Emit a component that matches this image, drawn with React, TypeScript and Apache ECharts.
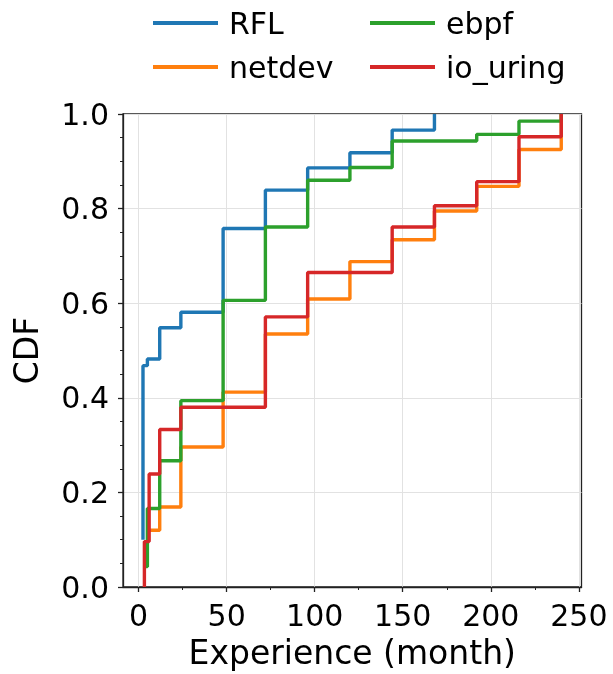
import React, { useEffect, useRef } from "react";
import * as echarts from "echarts";

const seriesNames = ["RFL", "netdev", "ebpf", "io_uring"];
const seriesColors = ["#1f77b4", "#ff7f0e", "#2ca02c", "#d62728"];

const rflX = [2.5, 2.5, 5, 12, 24, 48, 72, 96, 120, 144, 168];
const rflY = [0.1, 0.468, 0.482, 0.548, 0.581, 0.758, 0.839, 0.886, 0.918, 0.966, 1.0];

const netdevX = [6, 12, 24, 48, 72, 96, 120, 144, 168, 192, 216, 240];
const netdevY = [0.12, 0.169, 0.296, 0.412, 0.535, 0.609, 0.688, 0.734, 0.795, 0.847, 0.925, 1.0];

const ebpfX = [3.3, 5, 12, 24, 48, 72, 96, 120, 144, 192, 216, 240];
const ebpfY = [0.043, 0.166, 0.267, 0.394, 0.606, 0.761, 0.86, 0.887, 0.943, 0.957, 0.985, 1.0];

const iouringX = [3.3, 3.3, 6, 12, 24, 72, 96, 144, 168, 192, 216, 240];
const iouringY = [0, 0.096, 0.239, 0.333, 0.38, 0.571, 0.665, 0.761, 0.806, 0.857, 0.952, 1.0];

const xMajorTicks = [0, 50, 100, 150, 200, 250];
const xMinorTicks = [25, 75, 125, 175, 225];

const FONT = "DejaVu Sans";

export default function App() {
  const ref = useRef<HTMLDivElement>(null);
  useEffect(() => {
    if (!ref.current) return;
    const chart = echarts.init(ref.current, null, { renderer: "svg" });
    const xs = [rflX, netdevX, ebpfX, iouringX];
    const ys = [rflY, netdevY, ebpfY, iouringY];
    const series = seriesNames.map((name, i) => ({
      name,
      type: "line",
      step: "end",
      xAxisIndex: 0,
      yAxisIndex: 0,
      showSymbol: false,
      symbol: "none",
      lineStyle: { width: 3.4, color: seriesColors[i] },
      itemStyle: { color: seriesColors[i] },
      data: xs[i].map((x, j) => [x, ys[i][j]]),
    }));
    const legendCommon = {
      orient: "vertical",
      top: 2,
      icon: "rect",
      itemWidth: 65,
      itemHeight: 4,
      itemGap: 12,
      textStyle: {
        fontFamily: FONT,
        fontSize: 30,
        color: "#000",
        lineHeight: 32,
        padding: [0, 0, 0, 6],
      },
    };
    chart.setOption({
      animation: false,
      legend: [
        { ...legendCommon, left: 148, data: ["RFL", "netdev"] },
        { ...legendCommon, left: 365, data: ["ebpf", "io_uring"] },
      ],
      grid: {
        left: 123,
        top: 114,
        right: 31.5,
        bottom: 83,
        show: true,
        borderColor: "#222",
        borderWidth: 1.3,
        backgroundColor: "transparent",
      },
      xAxis: [
        {
          type: "value",
          min: -8.85,
          max: 251.5,
          position: "bottom",
          name: "Experience (month)",
          nameLocation: "middle",
          nameGap: 49,
          nameTextStyle: { fontFamily: FONT, fontSize: 33, color: "#000" },
          axisLine: { show: true, onZero: false, lineStyle: { color: "#222", width: 1.3 } },
          axisTick: { show: true, length: 5, customValues: xMajorTicks, lineStyle: { color: "#222", width: 1.3 } },
          axisLabel: {
            customValues: xMajorTicks,
            fontFamily: FONT,
            fontSize: 30,
            color: "#000",
            margin: 13,
          },
          splitLine: { show: true, lineStyle: { color: "#e2e2e2", width: 1 } },
        },
        {
          type: "value",
          min: -8.85,
          max: 251.5,
          position: "bottom",
          axisLine: { show: false, onZero: false },
          axisTick: { show: true, length: 3, customValues: xMinorTicks, lineStyle: { color: "#222", width: 1 } },
          axisLabel: { show: false },
          splitLine: { show: false },
        },
      ],
      yAxis: {
        type: "value",
        min: 0,
        max: 1,
        interval: 0.2,
        name: "CDF",
        nameLocation: "middle",
        nameGap: 80,
        nameTextStyle: { fontFamily: FONT, fontSize: 33, color: "#000" },
        axisLine: { show: true, onZero: false, lineStyle: { color: "#222", width: 1.3 } },
        axisTick: { show: true, length: 5, lineStyle: { color: "#222", width: 1.3 } },
        minorTick: { show: true, splitNumber: 4, length: 3, lineStyle: { color: "#222", width: 1 } },
        axisLabel: {
          fontFamily: FONT,
          fontSize: 30,
          color: "#000",
          margin: 14,
          formatter: (v: number) => v.toFixed(1),
        },
        splitLine: { show: true, lineStyle: { color: "#e2e2e2", width: 1 } },
      },
      series,
    });
    return () => chart.dispose();
  }, []);
  return (
    <div
      ref={ref}
      style={{ position: "fixed", left: 0, top: 0, width: 613, height: 674 }}
    />
  );
}
